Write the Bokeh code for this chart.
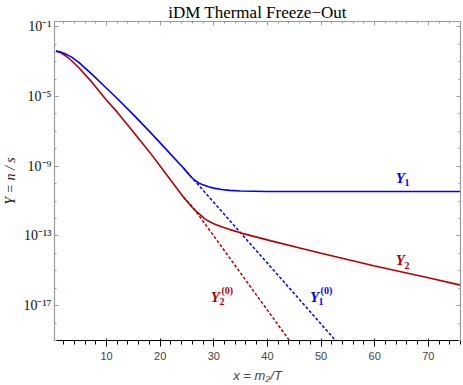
from bokeh.plotting import figure
from bokeh.models import (Range1d, FixedTicker, CustomJSTickFormatter, LinearAxis,
                          LogAxis, ColumnDataSource)
from bokeh.core.properties import value
from bokeh.embed import file_html
from bokeh.resources import INLINE

# ---- data ----
x_y1 = [0.56, 1.5, 2.41, 3.5, 4.89, 7.35, 9.81, 12.0, 15.0, 18.0, 21.0, 24.33, 25.87,
        26.5, 27.2, 28.0, 29.0, 30.0, 31.43, 33.0, 35.0, 40.0, 50.0, 60.0, 76.0]
y1 = [4.0e-3, 3.5e-3, 2.7e-3, 1.8e-3, 8.7e-4, 1.8e-4, 3.4e-5, 7.6e-6, 9.1e-7, 1.0e-7,
      1.02e-8, 7.9e-10, 2.24e-10, 1.51e-10, 1.1e-10, 8.5e-11, 6.6e-11, 5.5e-11, 4.6e-11,
      4.1e-11, 3.8e-11, 3.55e-11, 3.55e-11, 3.55e-11, 3.55e-11]

x_y2 = [0.56, 1.5, 2.41, 3.5, 4.89, 7.35, 9.81, 12.0, 15.0, 18.15, 21.0, 24.33, 25.87,
        26.8, 28.33, 29.0, 30.0, 31.43, 33.0, 35.13, 40.7, 46.4, 50.0, 60.0, 70.0, 76.0]
y2 = [4.0e-3, 3.2e-3, 2.1e-3, 1.12e-3, 4.3e-4, 6.2e-5, 7.1e-6, 1.26e-6, 9.1e-8, 5.8e-9,
      3.9e-10, 1.7e-11, 4.7e-12, 2.45e-12, 9.5e-13, 7.1e-13, 5.0e-13, 3.4e-13, 2.3e-13,
      1.45e-13, 5.2e-14, 1.9e-14, 1.02e-14, 1.9e-15, 4.0e-16, 1.5e-16]

x_y1eq = [24.33, 26.0, 30.0, 35.0, 40.0, 45.0, 50.0, 53.2]
y1eq = [7.9e-10, 2.1e-10, 8.5e-12, 1.5e-13, 2.75e-15, 5.0e-17, 8.9e-19, 6.8e-20]

x_y2eq = [24.33, 26.0, 30.0, 34.0, 38.0, 42.0, 44.5]
y2eq = [1.7e-11, 4.9e-12, 1.0e-13, 1.95e-15, 3.9e-17, 7.8e-19, 6.8e-20]

x_ticks = [10, 20, 30, 40, 50, 60, 70]
x_minor = [2, 4, 6, 8, 12, 14, 16, 18, 22, 24, 26, 28, 32, 34, 36, 38, 42, 44, 46, 48,
           52, 54, 56, 58, 62, 64, 66, 68, 72, 74, 76]
y_ticks = [1e-1, 1e-5, 1e-9, 1e-13, 1e-17]
y_minor = [10.0 ** (-k) for k in range(1, 20)]

labels_base = ["Y", "Y", "Y", "Y"]
labels_sub = ["1", "2", "2", "1"]
labels_sup = ["", "", "(0)", "(0)"]
labels_x = [64.8, 64.8, 30.3, 48.8]
labels_y = [2.2e-10, 3.9e-15, 3.2e-17, 3.2e-17]
labels_color = ["#0000ff", "#b30000", "#b30000", "#0000ff"]

title_text = "iDM Thermal Freeze−Out"
xlabel_text = "x = m₂/T"
ylabel_text = "Y = n / s"

BLUE = "#0000ff"
RED = "#b30000"
GRAY = "#9a9a9a"
SERIF = "Liberation Serif"

p = figure(width=463, height=385, x_range=Range1d(0.3, 76), y_range=Range1d(1e-19, 0.2),
           y_axis_type="log", output_backend="svg", toolbar_location=None,
           title=title_text,
           min_border_left=52, min_border_right=3, min_border_top=0, min_border_bottom=39)

p.title.align = "center"
p.title.text_font = SERIF
p.title.text_font_size = "17px"
p.title.text_font_style = "normal"
p.title.text_color = "#000000"
p.title.standoff = 0
p.title.offset = 0

p.grid.visible = False
p.outline_line_color = None

sup = CustomJSTickFormatter(code="""
const s = {'-':'\u207b','0':'\u2070','1':'\u00b9','2':'\u00b2','3':'\u00b3','4':'\u2074',
           '5':'\u2075','6':'\u2076','7':'\u2077','8':'\u2078','9':'\u2079'};
const e = Math.round(Math.log10(tick));
return '10' + String(e).split('').map(c => s[c]).join('');
""")

xt = FixedTicker(ticks=x_ticks, minor_ticks=x_minor)
yt = FixedTicker(ticks=y_ticks, minor_ticks=y_minor)

p.xaxis.ticker = xt
p.yaxis.ticker = yt
p.yaxis.formatter = sup
p.xaxis.axis_label = xlabel_text
p.yaxis.axis_label = ylabel_text

blank = CustomJSTickFormatter(code="return '';")
top = LinearAxis(ticker=xt, formatter=blank)
right = LogAxis(ticker=yt, formatter=blank)
p.add_layout(top, "above")
p.add_layout(right, "right")

for ax in [p.xaxis[0], p.yaxis[0], top, right]:
    ax.axis_line_color = GRAY
    ax.axis_line_width = 1.2
    ax.major_tick_line_color = GRAY
    ax.minor_tick_line_color = GRAY
    ax.major_tick_in = 4
    ax.major_tick_out = 0
    ax.minor_tick_in = 2
    ax.minor_tick_out = 0
    ax.major_label_text_font = SERIF
    ax.major_label_text_font_size = "14px"
    ax.major_label_text_color = "#111111"
    ax.major_label_standoff = 3
    ax.axis_label_text_font = SERIF
    ax.axis_label_text_font_size = "14px"
    ax.axis_label_text_font_style = "italic"
    ax.axis_label_text_color = "#222222"
    ax.axis_label_standoff = 2

for ax in [top, right]:
    ax.major_label_standoff = 0
    ax.major_label_text_font_size = "0px"

p.line(x_y1eq, y1eq, line_color=BLUE, line_width=1.5, line_dash="3 2")
p.line(x_y2eq, y2eq, line_color=RED, line_width=1.5, line_dash="3 2")
p.line(x_y2, y2, line_color=RED, line_width=1.6)
p.line(x_y1, y1, line_color=BLUE, line_width=1.6)

src = ColumnDataSource(dict(x=labels_x, y=labels_y, b=labels_base, s=labels_sub,
                            u=labels_sup, c=labels_color))
p.text(x="x", y="y", text="b", text_color="c", source=src,
       text_font=value(SERIF), text_font_size="15px", text_font_style="bold italic",
       text_align="center", text_baseline="middle")
p.text(x="x", y="y", text="s", text_color="c", source=src,
       text_font=value(SERIF), text_font_size="10px", text_font_style="bold",
       text_align="left", text_baseline="middle", x_offset=4, y_offset=5)
p.text(x="x", y="y", text="u", text_color="c", source=src,
       text_font=value(SERIF), text_font_size="10px", text_font_style="bold",
       text_align="left", text_baseline="middle", x_offset=6, y_offset=-6)

with open("out.html", "w", encoding="utf-8") as f:
    f.write(file_html(p, INLINE))
